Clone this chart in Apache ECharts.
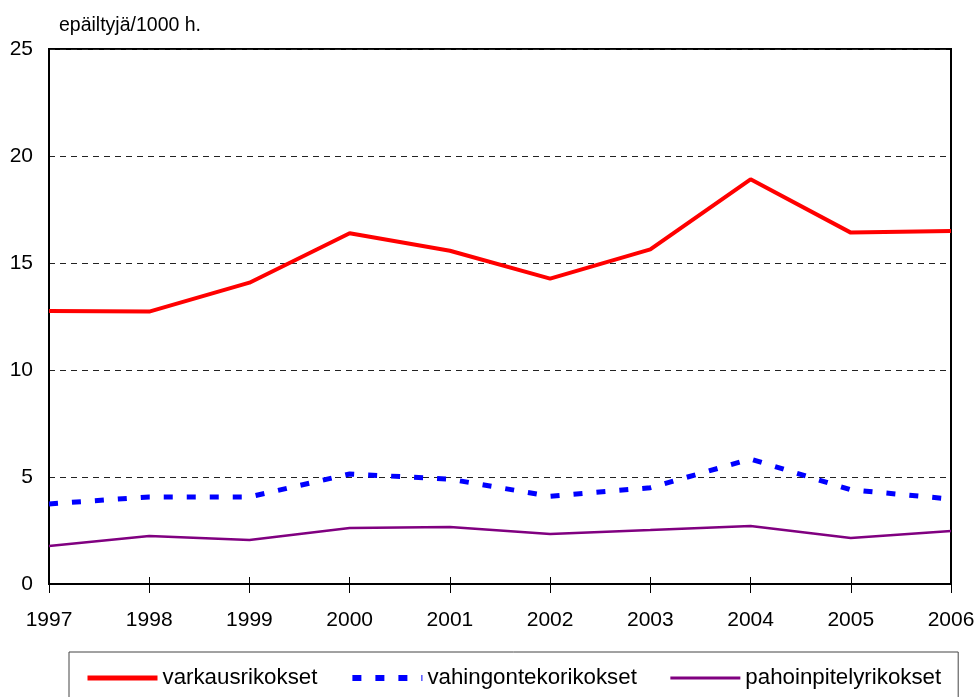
<!DOCTYPE html>
<html><head><meta charset="utf-8">
<script src="https://cdn.jsdelivr.net/npm/echarts@6/dist/echarts.min.js"></script>
<style>html,body{margin:0;padding:0;background:#fff}#c{width:979px;height:697px}</style>
</head><body><div id="c"></div>
<script>
const years = ['1997','1998','1999','2000','2001','2002','2003','2004','2005','2006'];
const varkaus = [12.76,12.73,14.08,16.39,15.57,14.27,15.64,18.91,16.42,16.5];
const vahingonteko = [3.74,4.07,4.07,5.14,4.9,4.1,4.5,5.84,4.4,3.97];
const pahoinpitely = [1.78,2.24,2.06,2.62,2.66,2.34,2.52,2.71,2.15,2.48];
const yTicks = [0,5,10,15,20,25];
const FONT = '"Liberation Sans", Arial, sans-serif';

const chart = echarts.init(document.getElementById('c'));
chart.setOption({
  animation: false,
  backgroundColor: '#fff',
  title: {
    text: 'epäiltyjä/1000 h.', left: 54, top: 11,
    textStyle: {fontFamily: FONT, fontSize: 19.5, fontWeight: 'normal', color: '#000'}
  },
  grid: {left: 49, right: 28, top: 49, bottom: 113, show: true, borderColor: '#000', borderWidth: 2, containLabel: false},
  legend: {
    left: 69, top: 652, width: 900,
    itemWidth: 70, itemHeight: 14, itemGap: 32,
    padding: [15, 17, 40, 16],
    borderColor: '#444', borderWidth: 1,
    itemStyle: {opacity: 0},
    textStyle: {fontFamily: FONT, fontSize: 22.3, color: '#000'},
    data: [
      {name: 'varkausrikokset', lineStyle: {width: 5}},
      {name: 'vahingontekorikokset', lineStyle: {width: 6}},
      {name: 'pahoinpitelyrikokset', lineStyle: {width: 3}}
    ]
  },
  xAxis: [{
    type: 'category', data: years, boundaryGap: false,
    axisLine: {lineStyle: {color: '#000', width: 2}},
    axisTick: {show: true, length: 9, lineStyle: {color: '#000', width: 1}},
    axisLabel: {fontFamily: FONT, fontSize: 21, color: '#000', margin: 26},
    splitLine: {show: false}
  }, {
    type: 'category', data: years, boundaryGap: false, position: 'bottom',
    axisLine: {show: false},
    axisTick: {show: true, inside: true, length: 7, lineStyle: {color: '#000', width: 1}},
    axisLabel: {show: false},
    splitLine: {show: false}
  }],
  yAxis: {
    type: 'value', min: yTicks[0], max: yTicks[yTicks.length-1], interval: 5,
    axisLine: {show: true, lineStyle: {color: '#000', width: 2}},
    axisTick: {show: false},
    axisLabel: {fontFamily: FONT, fontSize: 21, color: '#000', margin: 16},
    splitLine: {show: true, lineStyle: {color: '#222', width: 1, type: [6,5]}}
  },
  series: [
    {name: 'varkausrikokset', type: 'line', data: varkaus, symbol: 'none',
     lineStyle: {color: '#ff0000', width: 4}, itemStyle: {color: '#ff0000'}},
    {name: 'vahingontekorikokset', type: 'line', data: vahingonteko, symbol: 'none',
     lineStyle: {color: '#0000ff', width: 5, type: [9,14], cap: 'butt'}, itemStyle: {color: '#0000ff'}},
    {name: 'pahoinpitelyrikokset', type: 'line', data: pahoinpitely, symbol: 'none',
     lineStyle: {color: '#800080', width: 2.5}, itemStyle: {color: '#800080'}}
  ]
});
</script></body></html>
